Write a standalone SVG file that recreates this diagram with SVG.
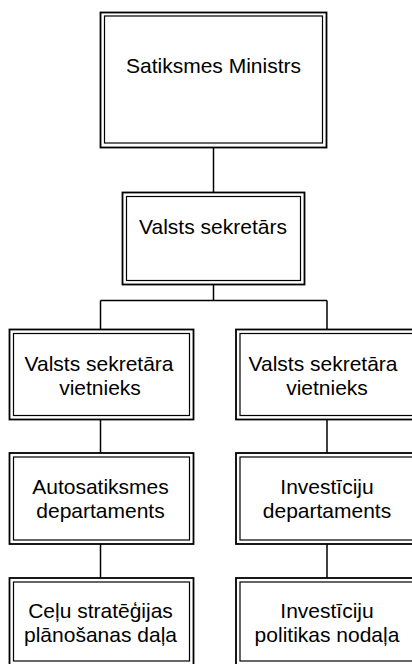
<svg xmlns="http://www.w3.org/2000/svg" width="412" height="664" viewBox="0 0 412 664">
<style>
.o{fill:none;stroke:#000;stroke-width:1.8}
.i{fill:none;stroke:#000;stroke-width:1.2}
.c{fill:none;stroke:#000;stroke-width:1.5}
text{font-family:"Liberation Sans",Arial,sans-serif;font-size:21px;fill:#000;text-anchor:middle}
</style>
<rect width="412" height="664" fill="#fff"/>
<g id="connectors">
<line class="c" x1="213.5" y1="147.5" x2="213.5" y2="192.5"/>
<line class="c" x1="213.5" y1="284.5" x2="213.5" y2="300.5"/>
<line class="c" x1="100.5" y1="300.5" x2="327" y2="300.5"/>
<line class="c" x1="100.5" y1="300.5" x2="100.5" y2="329.5"/>
<line class="c" x1="327" y1="300.5" x2="327" y2="329.5"/>
<line class="c" x1="100.5" y1="419.5" x2="100.5" y2="453"/>
<line class="c" x1="327" y1="419.5" x2="327" y2="453"/>
<line class="c" x1="100.5" y1="544" x2="100.5" y2="578"/>
<line class="c" x1="327" y1="544" x2="327" y2="578"/>
</g>
<g id="minister">
<rect class="o" x="100.5" y="12.5" width="226" height="135"/>
<rect class="i" x="104.5" y="16" width="218" height="127"/>
<text x="213.5" y="73">Satiksmes Ministrs</text>
</g>
<g id="secretary">
<rect class="o" x="122.5" y="192.5" width="182" height="92"/>
<rect class="i" x="126.5" y="196.5" width="174" height="84"/>
<text x="213" y="234">Valsts sekretārs</text>
</g>
<g id="deputy-left">
<rect class="o" x="9.5" y="329.5" width="184" height="90"/>
<rect class="i" x="13.5" y="333.5" width="176" height="82"/>
<text x="99" y="371">Valsts sekretāra</text>
<text x="100" y="395">vietnieks</text>
</g>
<g id="deputy-right">
<rect class="o" x="236" y="329.5" width="184" height="90"/>
<rect class="i" x="240" y="333.5" width="176" height="82"/>
<text x="323" y="371">Valsts sekretāra</text>
<text x="327" y="395">vietnieks</text>
</g>
<g id="auto-dept">
<rect class="o" x="9.5" y="453" width="184" height="91"/>
<rect class="i" x="13.5" y="457" width="176" height="83"/>
<text x="100.5" y="494">Autosatiksmes</text>
<text x="100.5" y="518">departaments</text>
</g>
<g id="invest-dept">
<rect class="o" x="236" y="453" width="184" height="91"/>
<rect class="i" x="240" y="457" width="176" height="83"/>
<text x="327" y="494">Investīciju</text>
<text x="327" y="518">departaments</text>
</g>
<g id="road-strategy">
<rect class="o" x="9.5" y="578" width="184" height="87"/>
<rect class="i" x="13.5" y="582" width="176" height="79"/>
<text x="100.5" y="618">Ceļu stratēģijas</text>
<text x="100.5" y="642">plānošanas daļa</text>
</g>
<g id="invest-policy">
<rect class="o" x="236" y="578" width="184" height="87"/>
<rect class="i" x="240" y="582" width="176" height="79"/>
<text x="327" y="618">Investīciju</text>
<text x="327" y="642">politikas nodaļa</text>
</g>
</svg>
